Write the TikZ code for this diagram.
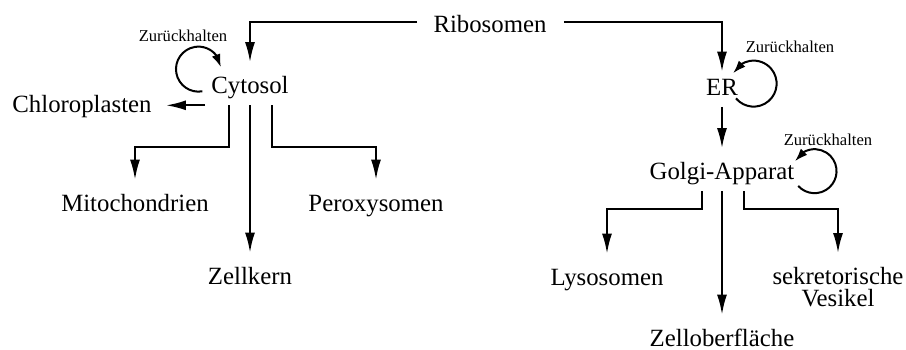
\documentclass[tikz,border=0pt]{standalone}
\usepackage{fontspec}
\setmainfont{Liberation Serif}
\usetikzlibrary{arrows.meta,bending}
\tikzset{
    %Define style for compartments
    ort/.style={
           inner sep=3pt,
           text height=8.5pt,
           text depth=2.7pt,
           font=\fontsize{12.4}{14}\selectfont,
           anchor=base},
    %Define style for the loop labels
    notiz/.style={
           inner sep=1pt,
           font=\fontsize{8.3}{10}\selectfont,
           anchor=base},
    % Define arrow styles
    pfeil/.style={
           -{Latex[length=10pt,width=5pt]},
           line width=1pt,
           shorten >=4pt},
    schleife/.style={
           -{Latex[length=6.5pt,width=4.5pt,flex]},
           line width=1pt}
}
\begin{document}
\begin{tikzpicture}[x=0.5pt,y=-0.5pt]
\useasboundingbox (0,0) rectangle (906,349);
 %nodes
\node[ort] (ribo) at (490,32) {Ribosomen};
\node[ort] (cyto) at (250,93.5) {Cytosol};
\node[ort] (chloro) at (82,112) {Chloroplasten};
\node[ort] (mito) at (135,211) {Mitochondrien};
\node[ort] (pero) at (376,211) {Peroxysomen};
\node[ort] (kern) at (250,284) {Zellkern};
\node[ort] (er) at (722,95) {ER};
\node[ort] (golgi) at (722,179.5) {Golgi-Apparat};
\node[ort] (lyso) at (607,285) {Lysosomen};
\node[ort] (ober) at (722,346) {Zelloberfläche};
\node[ort, anchor=north, align=center, text height={}, text depth={},
      font=\fontsize{12.4}{11}\selectfont] (vesikel) at (838,261) {sekretorische\\Vesikel};
\node[notiz] (halt1) at (183,41) {Zurückhalten};
\node[notiz] (halt2) at (790,52) {Zurückhalten};
\node[notiz] (halt3) at (828,145) {Zurückhalten};
 %sorting paths
\draw[pfeil, shorten <=5pt] ([yshift=2.25pt]ribo.west) -| (cyto);
\draw[pfeil, shorten <=5.5pt, shorten >=0pt] ([yshift=2.25pt]ribo.east) -| (er);
\draw[pfeil] (cyto.south west) -- (cyto.south west -| chloro.east);
\draw[pfeil] ([xshift=-10.5pt]cyto.south) -- ++(0,-21pt) -| (mito);
\draw[pfeil] (cyto) -- (kern);
\draw[pfeil] ([xshift=11pt]cyto.south) -- ++(0,-21pt) -| (pero);
\draw[pfeil] (er) -- (golgi);
\draw[pfeil] ([xshift=-10pt]golgi.south) -- ++(0,-9pt) -| (lyso);
\draw[pfeil] (golgi) -- (ober);
\draw[pfeil] ([xshift=11pt]golgi.south) -- ++(0,-9pt) -| (vesikel);
 %loops
\draw[schleife] ([shift={(-23.8pt,-1.8pt)}]cyto.center) arc[start angle=-80, end angle=-355, radius=11.25pt];
\draw[schleife] ([shift={(7pt,-4.6pt)}]er.center) arc[start angle=-140, end angle=153, radius=11.5pt];
\draw[schleife] ([shift={(38.1pt,-6.1pt)}]golgi.center) arc[start angle=-138, end angle=153, radius=11pt];
\end{tikzpicture}
\end{document}
